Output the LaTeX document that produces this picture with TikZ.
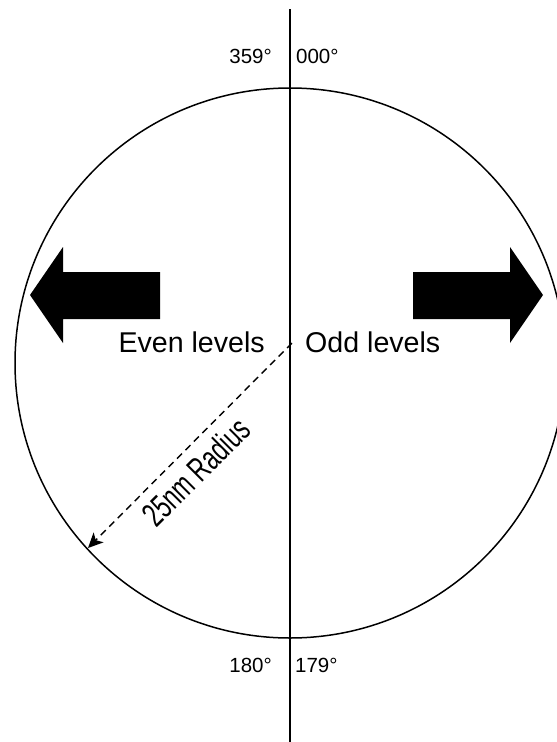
\documentclass[tikz,border=0pt]{standalone}
\usepackage{fontspec}
\setmainfont{Liberation Sans}
\usetikzlibrary{arrows.meta}
\begin{document}
\begin{tikzpicture}[x=1pt,y=-1pt,
  lbl/.style={inner sep=0pt,font=\fontsize{28.6}{30}\selectfont},
  narrowlbl/.style={inner sep=0pt,font=\fontsize{34}{36}\selectfont},
  deg/.style={inner sep=0pt,font=\fontsize{20.5}{22}\selectfont},
  bigarrow/.style={fill=black,draw=none},
  radius line/.style={dashed,dash pattern=on 7pt off 5pt,line width=1.4pt,-{Stealth[length=15pt,width=14pt,inset=4pt]}}]
\useasboundingbox (0,0) rectangle (557,742);
\clip (0,0) rectangle (557,742);
\fill[white] (0,0) rectangle (557,742);
% circle
\coordinate (c) at (290,363);
\draw[line width=1.5pt] (c) circle[radius=275];
% vertical line
\coordinate (top) at (290,9);
\coordinate (bot) at (290,742);
\draw[line width=1.6pt] (top) -- (bot);
% degree labels
\node[deg,anchor=base east] (n359) at (272,63) {359°};
\node[deg,anchor=base west] (n000) at (296,63) {000°};
\node[deg,anchor=base east] (n180) at (272,672) {180°};
\node[deg,anchor=base west] (n179) at (295,672) {179°};
% big arrows
\fill[bigarrow] (30,295) -- (63,247) -- (63,272) -- (160,272) -- (160,319) -- (63,319) -- (63,343) -- cycle;
\fill[bigarrow] (543,295) -- (510,247) -- (510,272) -- (413,272) -- (413,319) -- (510,319) -- (510,343) -- cycle;
% level labels
\node[lbl,anchor=base east] (even) at (265,352) {Even levels};
\node[lbl,anchor=base west] (odd) at (305,352) {Odd levels};
% radius
\coordinate (rs) at (292,343);
\coordinate (re) at (88,548);
\draw[radius line] (rs) -- (re);
\node[narrowlbl,rotate=45] (rad) at (196,472) {\scalebox{0.68}[1]{25nm Radius}};
\end{tikzpicture}
\end{document}
